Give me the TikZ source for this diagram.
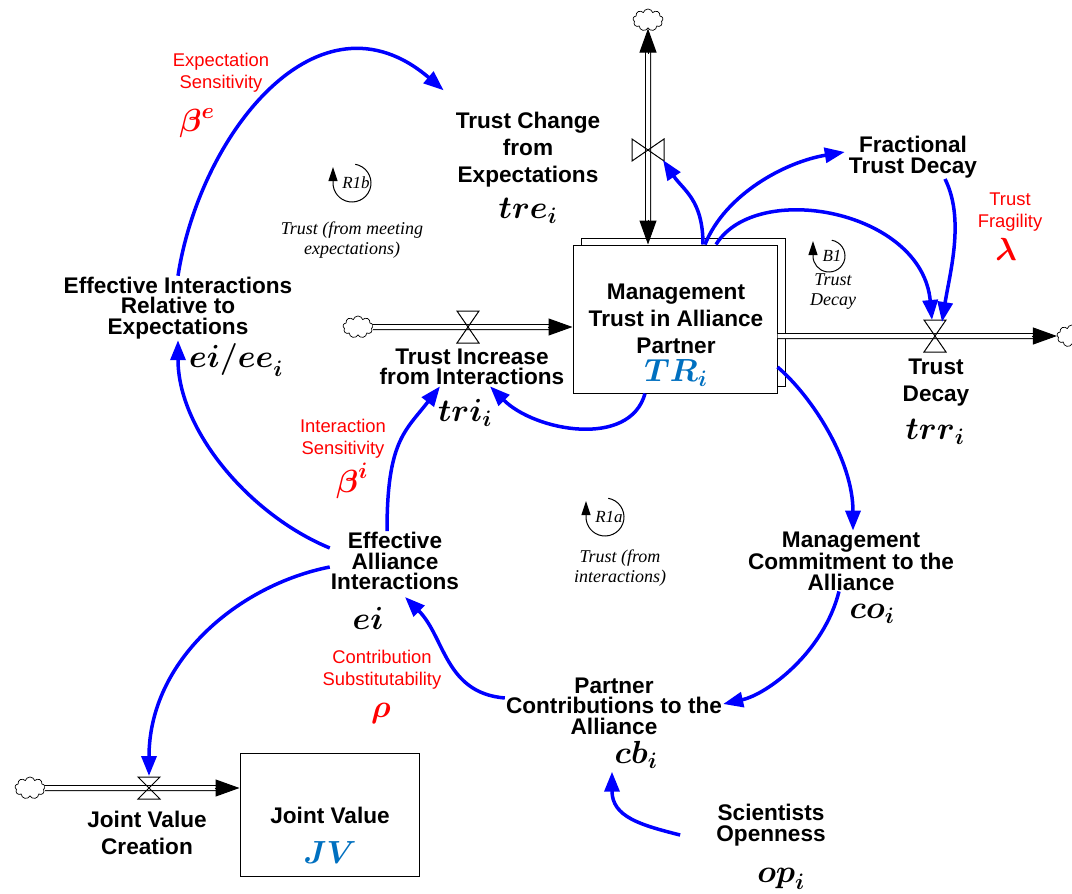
\RequirePackage{fix-cm}
\documentclass[tikz,border=0pt]{standalone}
\usepackage{amsmath}
\usepackage{fontspec}
\setmainfont{Liberation Sans}
\newfontfamily\loopfont{Liberation Serif}
\usetikzlibrary{arrows.meta,positioning,calc,shapes.symbols,shadows}
\definecolor{trblue}{RGB}{0,112,192}
\tikzstyle{var} = [font=\bfseries\fontsize{22.6}{20.5}\selectfont, align=center, inner sep=1pt]
\tikzstyle{varw} = [var, font=\bfseries\fontsize{22.6}{27}\selectfont]
\tikzstyle{sym} = [font=\fontsize{32}{32}\selectfont, inner sep=0pt]
\tikzstyle{prm} = [red, font=\fontsize{18.4}{22}\selectfont, align=center, inner sep=1pt]
\tikzstyle{stock} = [draw, fill=white, line width=1pt, inner sep=0pt]
\tikzstyle{pipe} = [draw=black, double=white, double distance=4pt, line width=1pt]
\tikzstyle{ptip} = [line width=1pt, -{Triangle[length=24pt,width=17pt]}]
\tikzstyle{valve} = [line width=1pt]
\tikzstyle{cld} = [cloud, cloud puffs=9, draw, line width=0.7pt, minimum width=30pt, minimum height=22pt, inner sep=0pt, fill=white]
\tikzstyle{lnk} = [blue, line width=3.5pt, -{Triangle[length=20pt,width=15pt]}]
\tikzstyle{lpid} = [font=\loopfont\itshape\fontsize{17}{17}\selectfont, inner sep=0pt]
\tikzstyle{lptx} = [font=\loopfont\itshape\fontsize{18}{20}\selectfont, align=center, inner sep=0pt]
\tikzstyle{lparc} = [line width=1pt, -{Triangle[length=14pt,width=9pt]}]

\begin{document}
\begin{tikzpicture}[x=1pt,y=1pt]
	\useasboundingbox (0,0) rectangle (1072,-894);

	% stocks
	\node[stock, copy shadow={shadow xshift=8pt, shadow yshift=7pt, draw, fill=white, line width=1pt},
		minimum width=204pt, minimum height=148pt] (tr) at (675,-319) {};
	\node[varw] (trL) at (676,-319) {Management\\Trust in Alliance\\Partner};
	\node[sym, text=trblue] (trS) at (676,-373) {$\boldsymbol{TR}_{\boldsymbol{i}}$};

	\node[stock, minimum width=179pt, minimum height=123pt] (jv) at (329.5,-814.5) {};
	\node[varw] (jvL) at (330,-815) {Joint Value};
	\node[sym, text=trblue] (jvS) at (330,-853) {$\boldsymbol{JV}$};

	% clouds and valves
	\node[cld] (cTop) at (648,-20) {};
	\node[cld] (cTri) at (358,-327) {};
	\node[cld] (cTrr) at (1072,-336) {};
	\node[cld] (cJv) at (30,-788) {};
	\coordinate (vTre) at (648,-150);
	\coordinate (vTri) at (468,-327);
	\coordinate (vTrr) at (935,-336);
	\coordinate (vJv) at (149,-788);
	\coordinate (tT) at ([xshift=-27]tr.north);
	\coordinate (tW) at ([yshift=-8]tr.west);
	\coordinate (tE) at ([yshift=-17]tr.east);
	\coordinate (jW) at ([yshift=26.5]jv.west);

	% variables
	\node[varw] (tre) at (528,-150) {Trust Change\\from\\Expectations};
	\node[sym] (treS) at (528,-211) {$\boldsymbol{tre}_{\boldsymbol{i}}$};
	\node[var] (tri) at (472,-367) {Trust Increase\\from Interactions};
	\node[sym] (triS) at (465,-413) {$\boldsymbol{tri}_{\boldsymbol{i}}$};
	\node[varw] (trr) at (936,-383) {Trust\\Decay};
	\node[sym] (trrS) at (935,-432) {$\boldsymbol{trr}_{\boldsymbol{i}}$};
	\node[var] (ftd) at (913,-157) {Fractional\\Trust Decay};
	\node[var] (eiee) at (178,-308) {Effective Interactions\\Relative to\\Expectations};
	\node[sym] (eieeS) at (236,-360) {$\boldsymbol{ei/ee}_{\boldsymbol{i}}$};
	\node[var] (eai) at (395,-561) {Effective\\Alliance\\Interactions};
	\node[sym] (eaiS) at (368,-618) {$\boldsymbol{ei}$};
	\node[var] (mc) at (851,-561) {Management\\Commitment to the\\Alliance};
	\node[sym] (mcS) at (872,-614) {$\boldsymbol{co}_{\boldsymbol{i}}$};
	\node[var] (pc) at (614,-706) {Partner\\Contributions to the\\Alliance};
	\node[sym] (pcS) at (636,-755) {$\boldsymbol{cb}_{\boldsymbol{i}}$};
	\node[var] (so) at (771,-825) {Scientists\\Openness};
	\node[sym] (soS) at (781,-879) {$\boldsymbol{op}_{\boldsymbol{i}}$};
	\node[varw] (jvc) at (147,-833) {Joint Value\\Creation};

	% parameters
	\node[prm] (es) at (221,-73) {Expectation\\Sensitivity};
	\node[sym, red] (esS) at (197,-123) {$\boldsymbol{\beta}^{\boldsymbol{e}}$};
	\node[prm] (is) at (343,-439) {Interaction\\Sensitivity};
	\node[sym, red] (isS) at (352,-481) {$\boldsymbol{\beta}^{\boldsymbol{i}}$};
	\node[prm] (cs) at (382,-670) {Contribution\\Substitutability};
	\node[sym, red] (csS) at (381,-713) {$\boldsymbol{\rho}$};
	\node[prm] (tf) at (1010,-212) {Trust\\Fragility};
	\node[sym, red] (tfS) at (1006,-249) {$\boldsymbol{\lambda}$};

	% pipes
	\draw[pipe] ($(cTop.south)!22pt!(tT)$) -- ($(tT)!22pt!(cTop.south)$);
	\draw[ptip] ($(cTop.south)!25pt!(tT)$) -- (cTop.south);
	\draw[ptip] ($(tT)!25pt!(cTop.south)$) -- (tT);
	\draw[pipe] (cTri.east) -- ($(tW)!22pt!(cTri.east)$);
	\draw[ptip] ($(tW)!25pt!(cTri.east)$) -- (tW);
	\draw[pipe] (tE) -- ($(cTrr.west)!22pt!(tE)$);
	\draw[ptip] ($(cTrr.west)!25pt!(tE)$) -- (cTrr.west);
	\draw[pipe] (cJv.east) -- ($(jW)!22pt!(cJv.east)$);
	\draw[ptip] ($(jW)!25pt!(cJv.east)$) -- (jW);

	\draw[valve] (vTre) ++(-16,11) -- ++(0,-22) -- ++(32,22) -- ++(0,-22) -- cycle;
	\draw[valve] (vTri) ++(-11,16) -- ++(22,0) -- ++(-22,-32) -- ++(22,0) -- cycle;
	\draw[valve] (vTrr) ++(-11,16) -- ++(22,0) -- ++(-22,-32) -- ++(22,0) -- cycle;
	\draw[valve] (vJv) ++(-11,11) -- ++(22,0) -- ++(-22,-22) -- ++(22,0) -- cycle;

	% loop markers
	\node[lpid] (r1b) at (356,-183) {R1b};
	\draw[lparc] ([xshift=-4]r1b.center) ++(80:19pt) arc[start angle=80, end angle=-180, radius=19pt] -- ++(0,16);
	\node[lptx] (r1bT) at (352,-240) {Trust (from meeting\\expectations)};
	\node[lpid] (b1) at (832,-256) {B1};
	\draw[lparc] ([xshift=-3]b1.center) ++(80:16pt) arc[start angle=80, end angle=-180, radius=16pt] -- ++(0,15);
	\node[lptx] (b1T) at (833,-292) {Trust\\Decay};
	\node[lpid] (r1a) at (609,-517) {R1a};
	\draw[lparc] ([xshift=-4]r1a.center) ++(80:19pt) arc[start angle=80, end angle=-180, radius=19pt] -- ++(0,16);
	\node[lptx] (r1aT) at (620,-568) {Trust (from\\interactions)};

	% causal links
	\draw[lnk] (eiee.north) .. controls +(22,142) and +(-125,107) .. ([shift={(-11,21)}]tre.north west);
	\draw[lnk] ([yshift=13]eai.west) .. controls +(-80,33) and +(0,-90) .. (eiee.south);
	\draw[lnk] ([yshift=-6]eai.west) .. controls +(-91,-18) and +(0,116) .. ([yshift=12]vJv);
	\draw[lnk] ([xshift=-8]eai.north) .. controls +(0,90) and +(-35,-45) .. ([xshift=-32]tri.south);
	\draw[lnk] ([xshift=-30]tr.south) .. controls +(-15,-55) and +(45,-45) .. ([xshift=18]tri.south);
	\draw[lnk] ([yshift=-48]tr.east) .. controls +(35,-30) and +(0,70) .. ([xshift=2]mc.north);
	\draw[lnk] ([xshift=-12]mc.south) .. controls +(-15,-60) and +(45,10) .. ([yshift=2]pc.east);
	\draw[lnk] ([yshift=8]pc.west) .. controls +(-60,5) and +(40,-40) .. ([shift={(10,-6)}]eai.south);
	\draw[lnk] ([shift={(-35,-10)}]so.west) .. controls +(-40,10) and +(0,-45) .. ([shift={(-24,-3)}]pcS.south);
	\draw[lnk] ([xshift=28]tr.north) .. controls +(0,45) and +(20,-30) .. ([shift={(15,-10)}]vTre);
	\draw[lnk] ([xshift=30]tr.north) .. controls +(20,50) and +(-60,-10) .. ([shift={(-3,5)}]ftd.west);
	\draw[lnk] ([xshift=41]tr.north) .. controls +(40,65) and +(-10,110) .. ([shift={(-3,16)}]vTrr);
	\draw[lnk] ([xshift=32]ftd.south) .. controls +(20,-40) and +(8,50) .. ([shift={(7,14)}]vTrr);
\end{tikzpicture}
\end{document}
